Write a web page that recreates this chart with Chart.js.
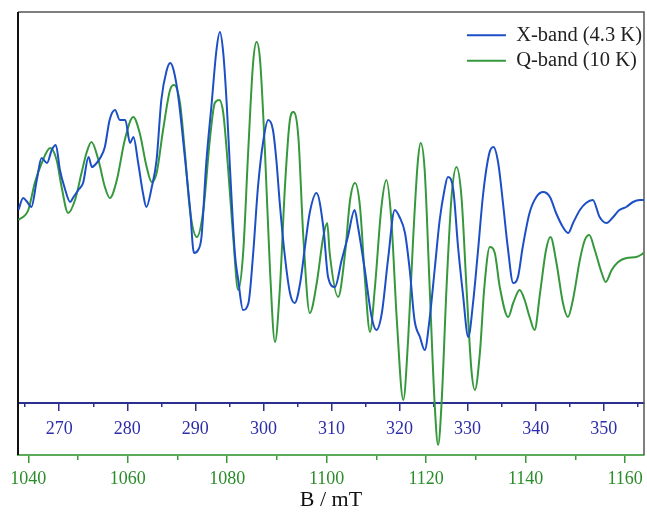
<!DOCTYPE html>
<html>
<head>
<meta charset="utf-8">
<script src="https://cdn.jsdelivr.net/npm/chart.js@4/dist/chart.umd.min.js"></script>
<style>
  html, body { margin: 0; padding: 0; background: #fff; }
</style>
</head>
<body>
<canvas id="epr" width="647" height="514"></canvas>
<script>
// X-band spectrum (4.3 K): field in mT, derivative signal in arbitrary units
const xbandField = [
  264.0, 264.7, 265.3, 265.9, 266.7, 267.4, 268.2, 268.9, 269.5, 270.1,
  270.8, 271.6, 272.1, 272.8, 273.5, 274.3, 274.8, 275.5, 276.1, 276.7,
  277.4, 278.2, 278.9, 279.7, 280.4, 280.9, 281.6, 282.3, 282.8, 283.6,
  284.3, 285.0, 285.8, 286.3, 286.8, 287.5, 288.5, 289.2, 289.8, 290.4,
  290.9, 291.6, 292.4, 293.1, 293.6, 294.1, 294.6, 295.1, 295.8, 296.3,
  297.0, 297.8, 298.5, 299.2, 300.0, 300.7, 301.4, 301.9, 302.4, 303.1,
  303.9, 304.6, 305.4, 306.1, 306.8, 307.8, 308.8, 309.5, 310.5, 311.5,
  312.4, 313.4, 313.9, 314.9, 315.9, 316.6, 317.4, 318.3, 319.3, 320.0,
  320.8, 321.5, 322.2, 323.0, 323.7, 324.4, 325.2, 325.9, 326.6, 327.1,
  327.9, 328.6, 329.3, 330.1, 330.8, 331.5, 332.3, 333.2, 333.8, 334.5,
  335.2, 335.9, 336.7, 337.4, 338.1, 339.1, 340.1, 341.1, 342.1, 343.0,
  344.0, 344.8, 345.5, 346.5, 347.4, 348.4, 349.4, 350.4, 351.4, 352.3,
  353.3, 354.3, 355.3, 355.9
];
const xbandSignal = [
  0.05, 0.17, 0.13, 0.08, 0.35, 0.57, 0.52, 0.65, 0.70, 0.45,
  0.27, 0.13, 0.18, 0.25, 0.32, 0.58, 0.48, 0.52, 0.58, 0.68,
  0.95, 1.05, 0.95, 0.95, 0.72, 0.78, 0.52, 0.22, 0.08, 0.28,
  0.55, 1.15, 1.45, 1.52, 1.45, 1.18, 0.55, 0.08, -0.38, -0.35,
  -0.22, 0.52, 1.12, 1.65, 1.83, 1.62, 1.12, 0.45, -0.38, -0.65,
  -0.95, -0.88, -0.38, 0.28, 0.75, 0.95, 0.85, 0.55, 0.12, -0.38,
  -0.78, -0.88, -0.68, -0.32, 0.02, 0.22, -0.12, -0.62, -0.72, -0.45,
  -0.22, 0.05, -0.12, -0.55, -1.02, -1.15, -0.98, -0.45, 0.05, -0.02,
  -0.18, -0.55, -1.05, -1.22, -1.35, -1.05, -0.52, -0.05, 0.25, 0.38,
  0.25, -0.32, -0.78, -1.22, -0.88, -0.38, 0.22, 0.62, 0.68, 0.52,
  0.12, -0.32, -0.68, -0.62, -0.32, 0.02, 0.18, 0.23, 0.18, 0.02,
  -0.12, -0.18, -0.08, 0.05, 0.12, 0.15, -0.02, -0.08, -0.02, 0.05,
  0.08, 0.13, 0.15, 0.15
];

// Q-band spectrum (10 K)
const qbandField = [
  1038.0, 1040.0, 1041.3, 1042.7, 1044.4, 1045.7, 1046.7, 1048.0, 1049.4, 1050.7,
  1051.7, 1052.7, 1054.1, 1055.4, 1056.4, 1057.8, 1059.4, 1061.1, 1062.4, 1063.8,
  1064.8, 1065.8, 1067.1, 1068.5, 1069.3, 1070.5, 1071.5, 1072.5, 1073.9, 1075.2,
  1076.5, 1077.5, 1078.4, 1079.2, 1080.2, 1081.2, 1082.2, 1083.2, 1084.2, 1085.2,
  1085.9, 1086.6, 1087.6, 1088.6, 1089.6, 1090.6, 1091.6, 1092.6, 1093.3, 1094.3,
  1095.3, 1096.6, 1098.0, 1099.3, 1100.1, 1100.6, 1102.3, 1103.7, 1104.7, 1105.7,
  1106.7, 1107.7, 1108.7, 1109.7, 1111.0, 1112.0, 1113.0, 1114.1, 1115.4, 1116.4,
  1117.4, 1118.3, 1118.9, 1119.7, 1120.7, 1121.7, 1122.4, 1123.1, 1124.1, 1125.1,
  1126.1, 1127.1, 1128.1, 1129.1, 1129.8, 1130.8, 1131.7, 1132.8, 1133.8, 1134.8,
  1136.5, 1137.5, 1138.8, 1139.8, 1140.8, 1141.8, 1142.9, 1144.1, 1145.0, 1146.2,
  1147.5, 1148.5, 1149.5, 1150.9, 1151.9, 1152.8, 1153.9, 1155.3, 1156.1, 1157.3,
  1158.6, 1160.3, 1162.3, 1163.8
];
const qbandSignal = [
  -0.05, 0.05, 0.32, 0.52, 0.67, 0.55, 0.28, 0.02, 0.15, 0.42,
  0.62, 0.73, 0.55, 0.28, 0.17, 0.35, 0.75, 0.98, 0.82, 0.48,
  0.33, 0.42, 0.85, 1.25, 1.30, 1.12, 0.62, 0.05, -0.22, 0.05,
  0.75, 1.12, 1.15, 1.02, 0.45, -0.22, -0.75, -0.38, 0.62, 1.52,
  1.73, 1.55, 0.62, -0.55, -1.27, -0.72, 0.28, 0.95, 1.03, 0.78,
  -0.22, -0.98, -0.68, -0.22, -0.08, -0.38, -0.82, -0.38, 0.15, 0.32,
  0.08, -0.65, -1.17, -0.72, 0.08, 0.35, -0.05, -1.05, -1.85, -1.22,
  -0.22, 0.52, 0.72, 0.45, -0.72, -1.88, -2.30, -1.88, -0.72, 0.18,
  0.48, 0.18, -0.72, -1.55, -1.75, -1.38, -0.72, -0.32, -0.38, -0.72,
  -1.02, -0.88, -0.75, -0.85, -1.02, -1.15, -0.78, -0.35, -0.22, -0.48,
  -0.88, -1.02, -0.85, -0.45, -0.25, -0.20, -0.35, -0.58, -0.67, -0.55,
  -0.47, -0.43, -0.42, -0.38
];

// Axis ranges and ticks (mT)
const xbandRange = [263.94, 355.92];
const qbandRange = [1037.93, 1163.8];
const xbandTicks = [270, 280, 290, 300, 310, 320, 330, 340, 350];
const xbandMinorTicks = [265, 275, 285, 295, 305, 315, 325, 335, 345, 355];
const qbandTicks = [1040, 1060, 1080, 1100, 1120, 1140, 1160];
const qbandMinorTicks = [1050, 1070, 1090, 1110, 1130, 1150];
const signalRange = [-2.40, 2.03];
const xbandAxisLevel = -1.88;

const serif = 'Liberation Serif';
const blue = '#1c4fc6';
const green = '#36983c';

const toPoints = (xs, ys) => xs.map((x, i) => ({ x: x, y: ys[i] }));
const setTicks = (list) => (scale) => { scale.ticks = list.map(v => ({ value: v })); };

// frame around the plot (left, top, right)
const framePlugin = {
  id: 'frame',
  beforeDatasetsDraw(chart) {
    const { ctx, chartArea: a } = chart;
    ctx.save();
    ctx.lineWidth = 1.5;
    ctx.strokeStyle = '#555';
    ctx.beginPath();
    ctx.moveTo(a.left, a.top);
    ctx.lineTo(a.right, a.top);
    ctx.lineTo(a.right, a.bottom);
    ctx.stroke();
    ctx.strokeStyle = '#111';
    ctx.lineWidth = 2;
    ctx.beginPath();
    ctx.moveTo(a.left, a.top);
    ctx.lineTo(a.left, a.bottom);
    ctx.stroke();
    ctx.restore();
  }
};

// move the legend into the top right corner of the plot
const legendCorner = {
  id: 'legendCorner',
  afterLayout(chart) {
    const lg = chart.legend;
    lg.left = chart.chartArea.right + 8 - lg.width;
    lg.top = chart.chartArea.top + 8;
  }
};

new Chart(document.getElementById('epr'), {
  type: 'line',
  data: {
    datasets: [
      {
        label: 'X-band (4.3 K)',
        data: toPoints(xbandField, xbandSignal),
        xAxisID: 'xb',
        borderColor: blue,
        borderWidth: 2,
        pointRadius: 0,
        cubicInterpolationMode: 'monotone'
      },
      {
        label: 'Q-band (10 K)',
        data: toPoints(qbandField, qbandSignal),
        xAxisID: 'x',
        borderColor: green,
        borderWidth: 2,
        pointRadius: 0,
        cubicInterpolationMode: 'monotone'
      }
    ]
  },
  options: {
    responsive: false,
    animation: false,
    layout: { padding: { left: 18, top: 12, right: 3, bottom: 0 } },
    plugins: {
      tooltip: { enabled: false },
      legend: {
        position: 'chartArea',
        align: 'start',
        labels: {
          usePointStyle: true,
          pointStyle: 'line',
          pointStyleWidth: 39,
          padding: 5,
          color: '#222',
          font: { family: serif, size: 20.5 }
        }
      }
    },
    scales: {
      y: {
        display: false,
        min: signalRange[0],
        max: signalRange[1]
      },
      x: {
        type: 'linear',
        position: 'bottom',
        min: qbandRange[0],
        max: qbandRange[1],
        afterBuildTicks: setTicks(qbandTicks),
        afterFit: (s) => { s.paddingLeft = 0; s.paddingRight = 0; s.height = 59; },
        grid: { drawOnChartArea: false, tickLength: 8, color: '#3a9a3a', lineWidth: 1.5 },
        border: { color: '#5aab5a', width: 2 },
        ticks: {
          padding: 7,
          color: '#2a8c2a',
          font: { family: serif, size: 18, lineHeight: 1 },
          callback: (v) => String(v)
        },
        title: {
          display: true,
          text: 'B / mT',
          color: '#111',
          font: { family: serif, size: 22, lineHeight: 1 },
          padding: { top: 3, bottom: 3 }
        }
      },
      xMinor: {
        type: 'linear',
        position: { y: signalRange[0] },
        min: qbandRange[0],
        max: qbandRange[1],
        afterBuildTicks: setTicks(qbandMinorTicks),
        grid: { drawOnChartArea: false, tickLength: 5, color: '#3a9a3a', lineWidth: 1.5 },
        border: { display: false },
        ticks: { display: false }
      },
      xb: {
        type: 'linear',
        position: { y: xbandAxisLevel },
        min: xbandRange[0],
        max: xbandRange[1],
        afterBuildTicks: setTicks(xbandTicks),
        grid: { drawOnChartArea: false, tickLength: 7, color: '#2b2f8f', lineWidth: 1.5 },
        border: { color: '#2b2f8f', width: 2 },
        ticks: {
          padding: 10,
          color: '#2e2eaa',
          font: { family: serif, size: 18, lineHeight: 1 },
          callback: (v) => String(v)
        }
      },
      xbMinor: {
        type: 'linear',
        position: { y: xbandAxisLevel },
        min: xbandRange[0],
        max: xbandRange[1],
        afterBuildTicks: setTicks(xbandMinorTicks),
        grid: { drawOnChartArea: false, tickLength: 4, color: '#2b2f8f', lineWidth: 1.5 },
        border: { display: false },
        ticks: { display: false }
      }
    }
  },
  plugins: [framePlugin, legendCorner]
});
</script>
</body>
</html>
